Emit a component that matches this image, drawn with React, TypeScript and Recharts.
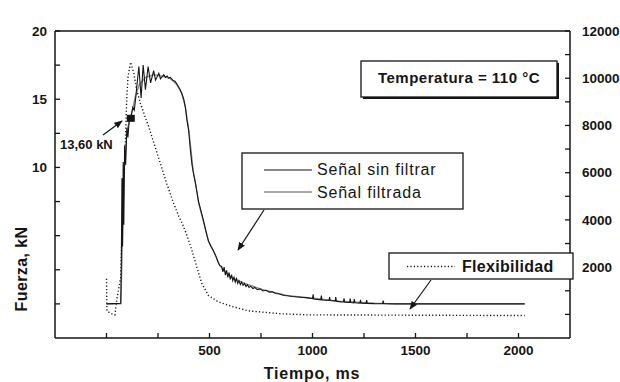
import { Line, LineChart, ReferenceDot, XAxis, YAxis } from 'recharts';

// axis ticks
const timeTicks = [0, 250, 500, 750, 1000, 1250, 1500, 1750, 2000];
const forceTicks = [0, 2.5, 5, 7.5, 10, 12.5, 15, 17.5, 20];
const flexTicks = [0, 1000, 2000, 3000, 4000, 5000, 6000, 7000, 8000, 9000, 10000, 11000, 12000];

// Señal sin filtrar (ms, kN)
const rawTime = [
  0, 30, 69, 72, 75, 78, 81, 84, 88, 93, 99, 104, 110, 117, 128, 135, 141, 157, 168, 178, 189, 202,
  214, 229, 238, 254, 262, 278, 286, 294, 302, 310, 322, 334, 342, 350, 358, 366, 375, 383, 390, 399,
  407, 415, 423, 431, 439, 447, 459, 471, 483, 495, 507, 519, 531, 543, 551, 559, 565, 571, 577, 583,
  589, 595, 601, 607, 613, 619, 625, 631, 637, 643, 650, 656, 663, 670, 677, 684, 692, 700, 710, 720,
  732, 745, 760, 775, 790, 805, 820, 840, 860, 880, 900, 930, 955, 978, 1000, 1003, 1006, 1040, 1043,
  1046, 1080, 1083, 1086, 1110, 1113, 1116, 1138, 1150, 1153, 1156, 1180, 1183, 1186, 1200, 1203, 1206,
  1230, 1233, 1236, 1260, 1263, 1266, 1300, 1340, 1343, 1346, 1400, 2030,
];
const rawForce = [
  0, 0.02, 0.05, 3.0, 9.2, 4.2, 10.4, 5.8, 11.6, 10.2, 12.9, 12.2, 13.4, 13.6, 14.4, 14.2, 15.0, 17.4,
  15.1, 17.5, 15.7, 17.4, 16.2, 17.1, 16.4, 16.9, 16.5, 16.8, 16.6, 16.7, 16.55, 16.6, 16.4, 16.3,
  16.1, 15.9, 15.7, 15.4, 15.0, 14.4, 13.5, 12.7, 11.3, 10.2, 9.5, 8.9, 8.2, 7.5, 6.8, 6.1, 5.3, 4.6,
  4.2, 3.9, 3.5, 3.0, 2.8, 2.75, 2.35, 2.7, 2.1, 2.45, 1.95, 2.3, 1.8, 2.15, 1.7, 1.95, 1.6, 1.85, 1.5,
  1.7, 1.42, 1.6, 1.35, 1.5, 1.28, 1.4, 1.2, 1.3, 1.13, 1.2, 1.05, 1.1, 0.95, 1.0, 0.86, 0.88, 0.76,
  0.72, 0.62, 0.6, 0.54, 0.51, 0.47, 0.44, 0.38, 0.7, 0.36, 0.3, 0.6, 0.29, 0.25, 0.5, 0.24, 0.2, 0.5,
  0.19, 0.15, 0.14, 0.4, 0.13, 0.1, 0.38, 0.1, 0.08, 0.35, 0.08, 0.06, 0.3, 0.05, 0.04, 0.28, 0.04,
  0.02, 0.01, 0.25, 0.01, 0, 0,
];

// Señal filtrada (ms, kN)
const filtTime = [
  0, 70, 78, 86, 100, 117, 140, 160, 190, 230, 270, 310, 340, 366, 383, 399, 411, 420, 435, 447, 471,
  495, 519, 550, 600, 670, 770, 880, 980, 1130, 1300, 1400, 2030,
];
const filtForce = [
  0, 0, 5, 10, 12.8, 13.6, 15.2, 16.1, 16.6, 16.8, 16.7, 16.5, 16.1, 15.4, 14.4, 12.8, 11.2, 9.8, 8.6,
  7.4, 6.0, 4.6, 3.9, 2.8, 2.0, 1.5, 1.0, 0.6, 0.45, 0.2, 0.05, 0, 0,
];

// Flexibilidad (ms, right axis)
const flexTime = [
  0, 2, 20, 41, 51, 69, 75, 85, 93, 98, 104, 117, 133, 147, 165, 186, 205, 221, 254, 292, 326, 351,
  370, 390, 415, 440, 463, 495, 543, 616, 688, 848, 978, 2030,
];
const flexValue = [
  1510, 150, 40, -20, 700, 1550, 3420, 5540, 7660, 9060, 10030, 10680, 10200, 9480, 8930, 8400, 7950,
  7500, 6600, 5550, 4700, 4150, 3800, 3350, 2700, 1950, 1300, 800, 530, 320, 150, 25, -20, -50,
];

const peakTime = 118;
const peakForce = 13.6;

const rawData = rawTime.map((t, i) => ({ t, v: rawForce[i] }));
const filtData = filtTime.map((t, i) => ({ t, v: filtForce[i] }));
const flexData = flexTime.map((t, i) => ({ t, v: flexValue[i] }));

const font = '"Liberation Sans", Arial, sans-serif';
const ink = '#151515';
const tickStyle = { fill: ink, fontSize: 13.5, fontWeight: 700, fontFamily: font };
const axisLine = { stroke: ink, strokeWidth: 1.5 };
const tickLine = { stroke: ink, strokeWidth: 1.3 };

const timeLabel = (v: number) => (v >= 500 && v % 500 === 0 ? String(v) : '');
const forceLabel = (v: number) => (v === 10 || v === 15 || v === 20 ? String(v) : '');
const flexLabel = (v: number) => (v >= 2000 && v % 2000 === 0 ? String(v) : '');

export default function App() {
  return (
    <div style={{ position: 'absolute', left: 0, top: 0, width: 620, height: 382, background: '#fff' }}>
      <LineChart width={620} height={382} margin={{ top: 0, right: 0, bottom: 0, left: 0 }}>
        <XAxis
          xAxisId="bottom"
          dataKey="t"
          type="number"
          domain={[-250, 2250]}
          ticks={timeTicks}
          tickFormatter={timeLabel}
          height={44}
          tickSize={-5}
          tickMargin={12}
          axisLine={axisLine}
          tickLine={tickLine}
          tick={tickStyle}
        />
        <XAxis
          xAxisId="top"
          orientation="top"
          dataKey="t"
          type="number"
          domain={[-250, 2250]}
          ticks={timeTicks}
          tickFormatter={timeLabel}
          height={31}
          tickSize={-5}
          tickMargin={14}
          axisLine={axisLine}
          tickLine={tickLine}
          tick={tickStyle}
        />
        <YAxis
          yAxisId="force"
          type="number"
          domain={[-2.5, 20]}
          ticks={forceTicks}
          tickFormatter={forceLabel}
          width={55}
          tickSize={-5}
          tickMargin={13}
          axisLine={axisLine}
          tickLine={tickLine}
          tick={tickStyle}
        />
        <YAxis
          yAxisId="flex"
          orientation="right"
          type="number"
          domain={[-1000, 12000]}
          ticks={flexTicks}
          tickFormatter={flexLabel}
          width={50}
          tickSize={-5}
          tickMargin={17}
          axisLine={axisLine}
          tickLine={tickLine}
          tick={{ ...tickStyle, textAnchor: 'start' }}
        />
        <Line
          xAxisId="bottom"
          yAxisId="flex"
          data={flexData}
          dataKey="v"
          type="linear"
          stroke={ink}
          strokeWidth={1.4}
          strokeDasharray="1.2 2.2"
          dot={false}
          isAnimationActive={false}
        />
        <Line
          xAxisId="bottom"
          yAxisId="force"
          data={filtData}
          dataKey="v"
          type="linear"
          stroke="#8a8a8a"
          strokeWidth={1.3}
          dot={false}
          isAnimationActive={false}
        />
        <Line
          xAxisId="bottom"
          yAxisId="force"
          data={rawData}
          dataKey="v"
          type="linear"
          stroke={ink}
          strokeWidth={1.1}
          dot={false}
          isAnimationActive={false}
        />
        <ReferenceDot
          xAxisId="bottom"
          yAxisId="force"
          x={peakTime}
          y={peakForce}
          shape={(p: any) => <rect x={p.cx - 4} y={p.cy - 3.5} width={8} height={7} fill={ink} />}
        />
      </LineChart>

      <svg
        width={620}
        height={382}
        style={{ position: 'absolute', left: 0, top: 0, pointerEvents: 'none', fontFamily: font }}
      >
        <defs>
          <marker id="ah" viewBox="0 0 10 10" refX="9" refY="5" markerWidth="7" markerHeight="7" orient="auto">
            <path d="M0,1 L10,5 L0,9 z" fill={ink} />
          </marker>
        </defs>

        {/* temperature box */}
        <rect x={363} y={63} width={196} height={36} fill={ink} />
        <rect x={361} y={61} width={196} height={36} fill="#fff" stroke={ink} strokeWidth={1.3} />
        <text x={459} y={83} textAnchor="middle" fontSize={15} fontWeight={700} letterSpacing={0.5} fill={ink}>
          Temperatura = 110 °C
        </text>

        {/* legend box */}
        <rect x={242} y={153} width={221} height={56} fill="#fff" stroke={ink} strokeWidth={1.3} />
        <line x1={264} y1={170} x2={312} y2={170} stroke={ink} strokeWidth={1.2} />
        <line x1={264} y1={192} x2={312} y2={192} stroke="#8a8a8a" strokeWidth={1.4} />
        <text x={317} y={175} fontSize={16} letterSpacing={0.8} fill={ink}>
          Señal sin filtrar
        </text>
        <text x={317} y={198} fontSize={16} letterSpacing={0.8} fill={ink}>
          Señal filtrada
        </text>

        {/* flexibility box */}
        <rect x={389} y={253} width={184} height={26} fill="#fff" stroke={ink} strokeWidth={1.3} />
        <line x1={407} y1={266.5} x2={455} y2={266.5} stroke={ink} strokeWidth={1.4} strokeDasharray="1.2 2.2" />
        <text x={462} y={271.5} fontSize={16} fontWeight={700} letterSpacing={0.3} fill={ink}>
          Flexibilidad
        </text>

        {/* arrows */}
        <line x1={103} y1={135} x2={122} y2={121} stroke={ink} strokeWidth={1.2} markerEnd="url(#ah)" />
        <line x1={264} y1={210} x2={238} y2={250} stroke={ink} strokeWidth={1.2} markerEnd="url(#ah)" />
        <line x1={431} y1={280} x2={410} y2={309} stroke={ink} strokeWidth={1.2} markerEnd="url(#ah)" />

        <text x={60} y={149} fontSize={13} fontWeight={700} fill={ink}>
          13,60 kN
        </text>

        {/* axis titles */}
        <text x={312} y={379} textAnchor="middle" fontSize={16} fontWeight={700} letterSpacing={0.8} fill={ink}>
          Tiempo, ms
        </text>
        <text
          transform="translate(27,269) rotate(-90)"
          textAnchor="middle"
          fontSize={16}
          fontWeight={700}
          letterSpacing={0.4}
          fill={ink}
        >
          Fuerza, kN
        </text>
      </svg>
    </div>
  );
}
